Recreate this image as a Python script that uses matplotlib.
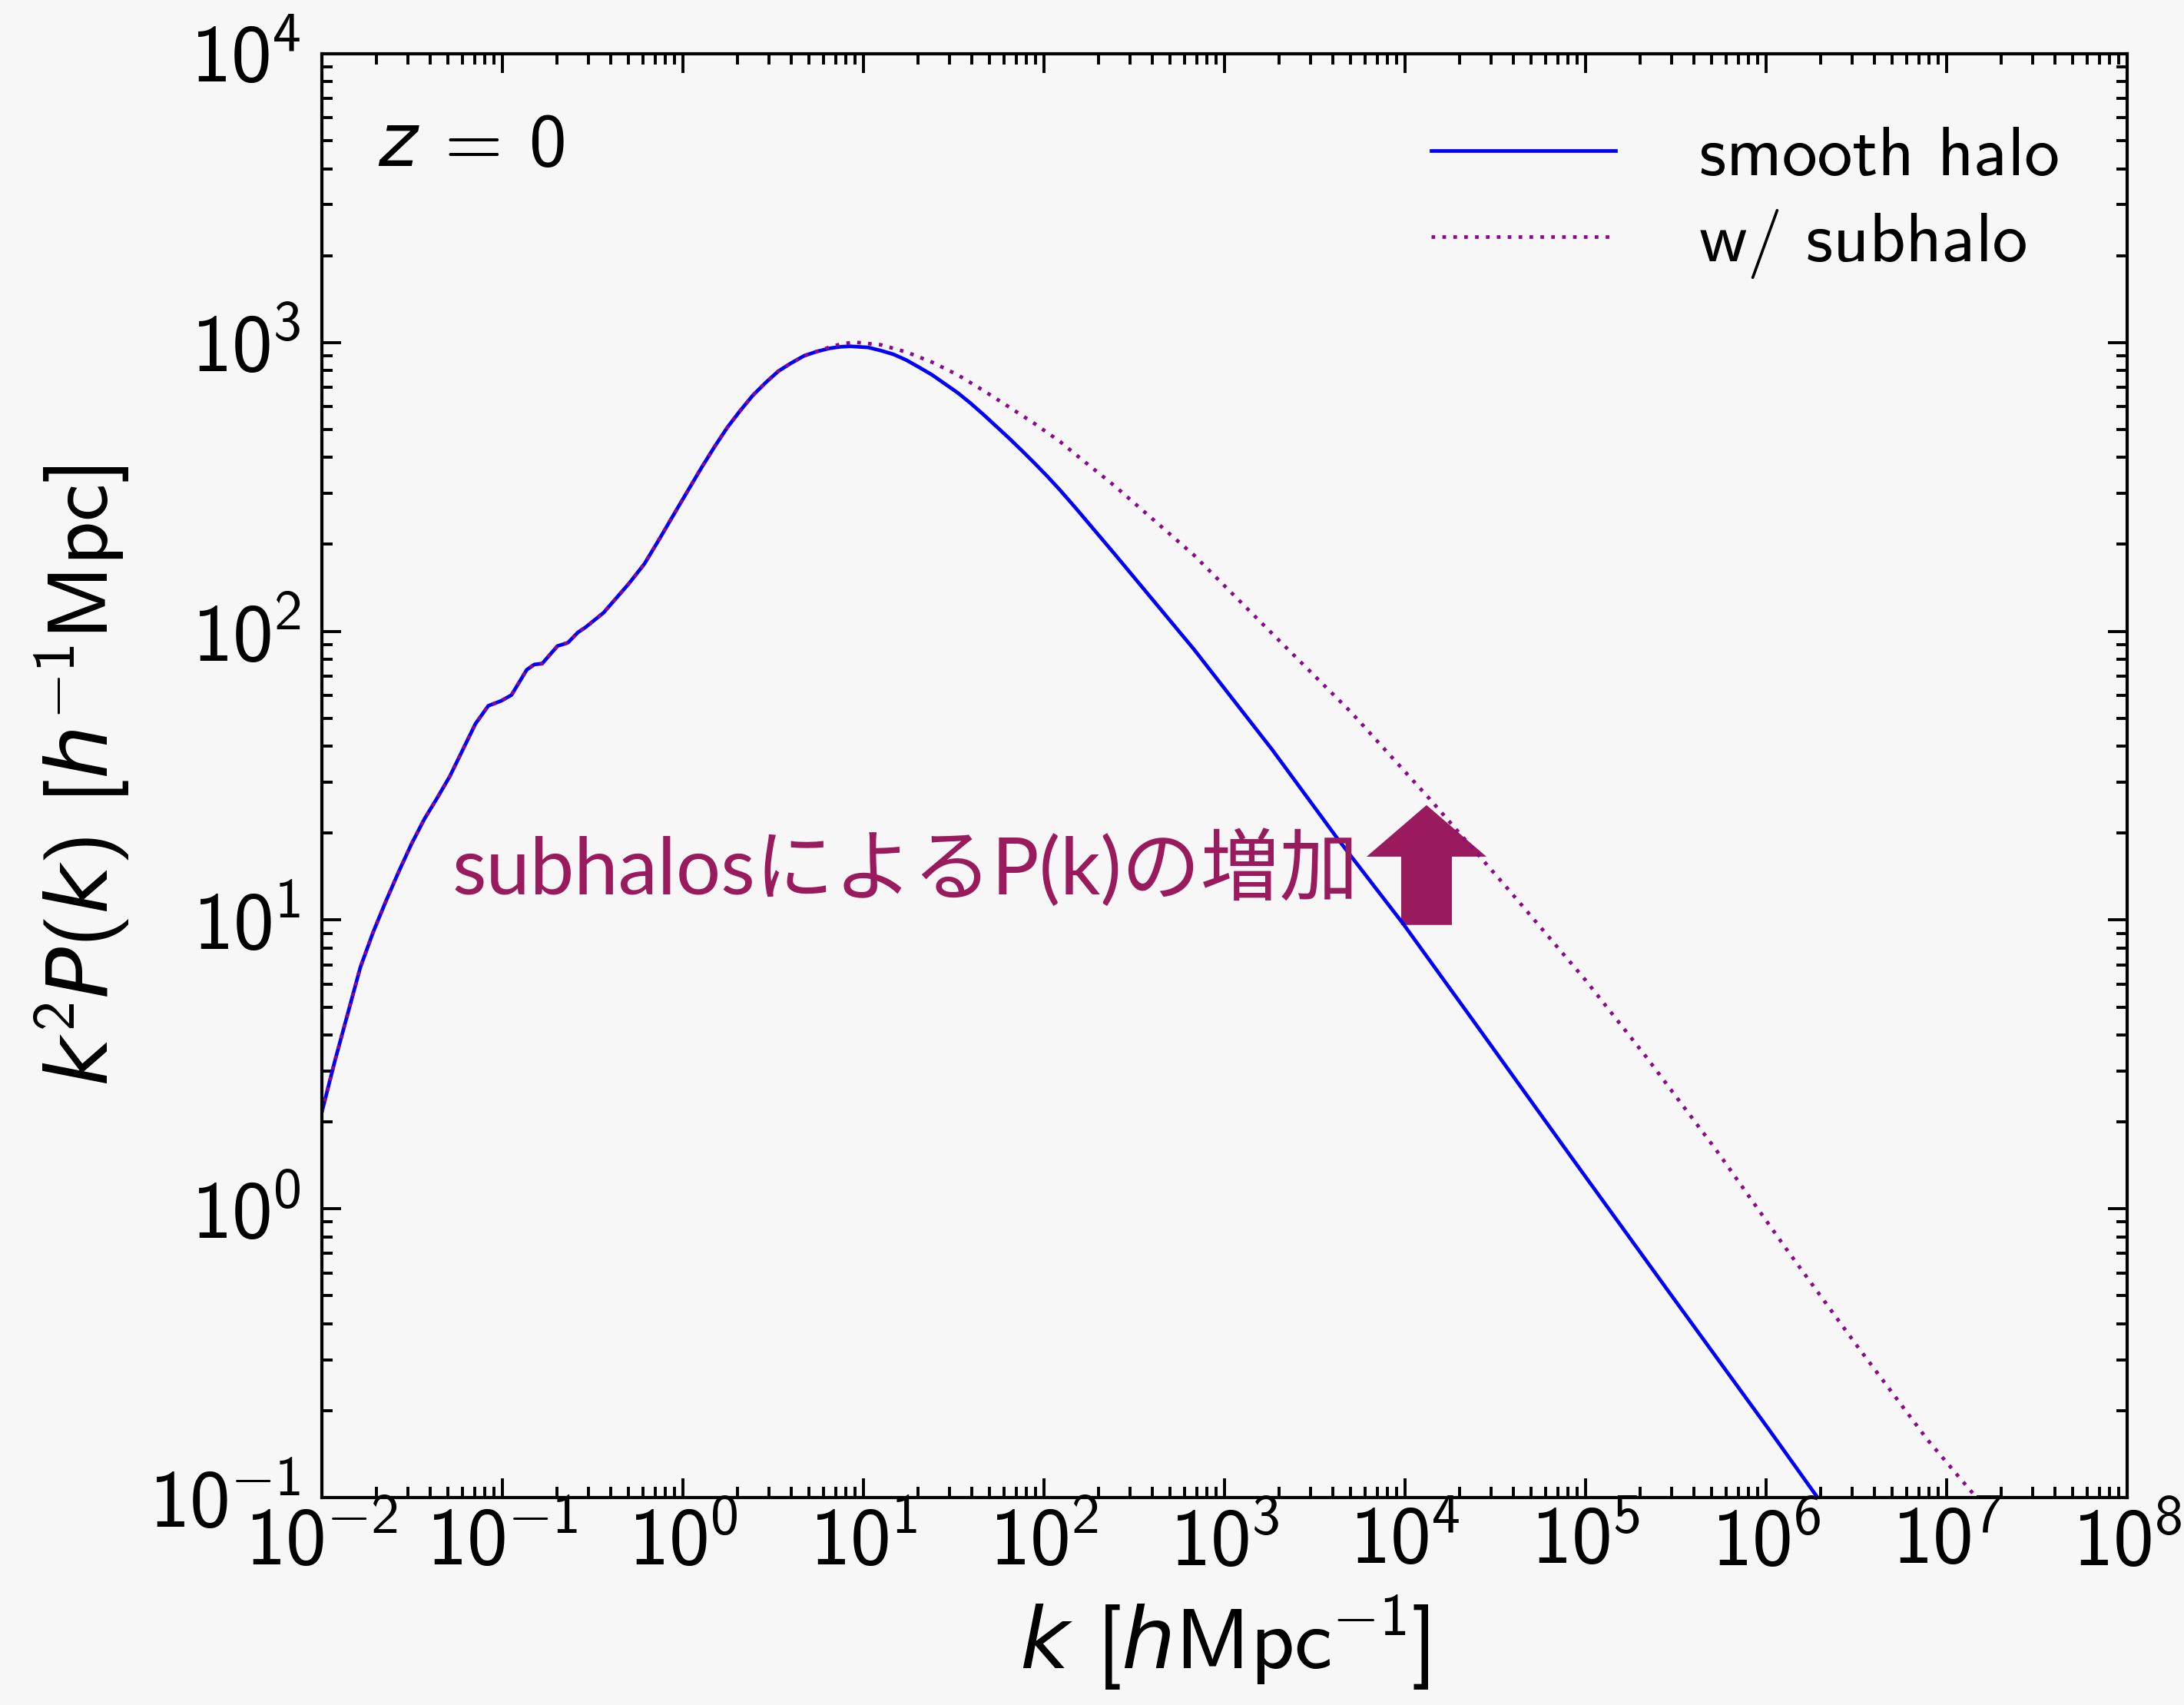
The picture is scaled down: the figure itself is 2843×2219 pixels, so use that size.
import numpy as np
import matplotlib
matplotlib.use("Agg")
import matplotlib.pyplot as plt
from matplotlib.ticker import LogLocator, FuncFormatter, NullFormatter
from matplotlib.patches import FancyArrow

# ---------------- data ----------------
k_smooth = [0.01000, 0.01178, 0.01387, 0.01633, 0.01923, 0.02265, 0.02667, 0.03133,
            0.03690, 0.04345, 0.05117, 0.06026, 0.07096, 0.08356, 0.09840, 0.1122,
            0.1365, 0.1503, 0.1660, 0.2018, 0.2301, 0.2618, 0.2891, 0.3631, 0.5035,
            0.6124, 0.7447, 0.9162, 1.079, 1.271, 1.496, 1.762, 2.070, 2.438, 2.871,
            3.381, 3.981, 4.688, 5.521, 6.501, 7.396, 8.433, 10.62, 12.50, 14.69,
            17.30, 20.37, 23.99, 28.25, 33.27, 39.17, 46.13, 54.33, 63.97, 75.34,
            88.72, 104.2, 122.7, 149.3, 248.9, 676.1, 1837.0, 4227.0, 9817.0,
            24270.0, 84720.0, 295800.0, 1.033e6, 1.928e6]
p_smooth = [2.163, 3.236, 4.710, 6.855, 9.078, 11.64, 14.72, 18.32,
            22.34, 26.42, 31.48, 38.82, 47.86, 55.21, 57.41, 60.12,
            73.62, 76.74, 77.27, 88.92, 91.20, 99.08, 103.3, 115.9, 146.6,
            171.4, 209.9, 261.8, 311.2, 369.8, 435.5, 508.2, 579.4, 656.1, 726.1,
            796.2, 849.2, 899.5, 931.1, 955.0, 966.1, 970.5, 961.6, 937.6, 909.9,
            869.0, 820.4, 772.7, 719.5, 669.9, 616.6, 563.6, 512.9, 466.7, 422.7,
            381.9, 344.4, 308.3, 267.9, 183.7, 86.70, 38.90, 19.14, 9.661,
            4.416, 1.489, 0.5058, 0.1726, 0.1000]

k_sub = [0.01000, 0.01178, 0.01387, 0.01633, 0.01923, 0.02265, 0.02667, 0.03133,
         0.03690, 0.04345, 0.05117, 0.06026, 0.07096, 0.08356, 0.09840, 0.1122,
         0.1365, 0.1503, 0.1660, 0.2018, 0.2301, 0.2618, 0.2891, 0.3631, 0.5035,
         0.6124, 0.7447, 0.9162, 1.079, 1.271, 1.496, 1.762, 2.070, 2.438, 2.871,
         3.381, 3.981, 4.688, 5.521, 6.501, 7.656, 9.016, 12.50, 17.30, 23.99,
         33.27, 46.13, 63.97, 88.72, 122.7, 149.3, 248.9, 676.1, 1837.0, 5000.0,
         13580.0, 36900.0, 100200.0, 214300.0, 527200.0, 1.297e6, 3.192e6,
         7.834e6, 1.462e7]
p_sub = [2.163, 3.236, 4.710, 6.855, 9.078, 11.64, 14.72, 18.32,
         22.34, 26.42, 31.48, 38.82, 47.86, 55.21, 57.41, 60.12,
         73.62, 76.74, 77.27, 88.92, 91.20, 99.08, 103.3, 115.9, 146.6,
         171.4, 209.9, 261.8, 311.2, 369.8, 435.5, 508.2, 579.4, 656.1, 726.1,
         796.2, 849.2, 899.5, 931.1, 963.9, 990.8, 1002.0, 981.7, 926.8, 855.1,
         772.7, 682.3, 598.4, 523.6, 453.9, 410.2, 316.9, 183.7, 98.17, 52.60,
         26.42, 12.88, 6.180, 3.388, 1.603, 0.7244, 0.3350, 0.1585, 0.1000]

labels = ["smooth halo", "w/ subhalo"]
annotation = "subhalosによるP(k)の増加"
redshift_text = r"$z\,=\,0$"
xlabel = r"$k\ [h\mathrm{Mpc}^{-1}]$"
ylabel = r"$k^2P(k)\ [h^{-1}\mathrm{Mpc}]$"
x_range = (1e-2, 1e8)
y_range = (1e-1, 1e4)

# ---------------- style ----------------
BG = "#f7f7f7"
ACCENT = "#9a1a5e"
plt.rcParams["font.family"] = ["cmss10", "DejaVu Sans"]
plt.rcParams["mathtext.fontset"] = "custom"
plt.rcParams["mathtext.rm"] = "cmss10"
plt.rcParams["mathtext.it"] = "DejaVu Sans:italic"
plt.rcParams["mathtext.bf"] = "cmss10"
plt.rcParams["mathtext.fallback"] = "cm"

fig = plt.figure(figsize=(14.215, 11.095), dpi=200, facecolor=BG)
ax = fig.add_axes([0.14738, 0.12168, 0.82659, 0.84678], facecolor=BG)

ax.plot(k_smooth, p_smooth, color="#0000ff", lw=1.7, label=labels[0])
ax.plot(k_sub, p_sub, color="#8b0a8b", lw=1.7, linestyle=(0, (1, 2.0)), label=labels[1])

ax.set_xscale("log")
ax.set_yscale("log")
ax.set_xlim(*x_range)
ax.set_ylim(*y_range)


def pow10(v, pos):
    e = int(round(np.log10(v)))
    return r"$10^{%d}$" % e


ax.xaxis.set_major_locator(LogLocator(base=10, numticks=30))
ax.yaxis.set_major_locator(LogLocator(base=10, numticks=30))
ax.xaxis.set_minor_locator(LogLocator(base=10, subs=np.arange(2, 10), numticks=300))
ax.yaxis.set_minor_locator(LogLocator(base=10, subs=np.arange(2, 10), numticks=300))
ax.xaxis.set_major_formatter(FuncFormatter(pow10))
ax.yaxis.set_major_formatter(FuncFormatter(pow10))
ax.xaxis.set_minor_formatter(NullFormatter())
ax.yaxis.set_minor_formatter(NullFormatter())

ax.tick_params(which="both", direction="in", top=True, right=True, width=1.4, color="black")
ax.tick_params(which="major", length=9, labelsize=38)
ax.tick_params(which="minor", length=5)
ax.tick_params(axis="x", which="major", pad=4)
ax.tick_params(axis="y", which="major", pad=10)
for s in ax.spines.values():
    s.set_linewidth(1.5)

ax.set_xlabel(xlabel, fontsize=40, labelpad=6)
ax.set_ylabel(ylabel, fontsize=40, labelpad=8)

ax.text(0.031, 0.9225, redshift_text, transform=ax.transAxes, fontsize=35,
        ha="left", va="baseline")

leg = ax.legend(loc="upper left", bbox_to_anchor=(0.6145, 0.950), frameon=False,
                fontsize=33, handlelength=2.62, handletextpad=1.19, labelspacing=0.28,
                borderpad=0, borderaxespad=0)

ax.text(0.0723, 0.4179, annotation, transform=ax.transAxes, fontsize=37,
        color=ACCENT, family=["Lato", "Noto Sans CJK JP", "DejaVu Sans"],
        ha="left", va="baseline")

arrow = FancyArrow(0.6119, 0.3966, 0.0, 0.083, width=0.0281, head_width=0.0664,
                   head_length=0.0357, length_includes_head=True,
                   transform=ax.transAxes, color=ACCENT, lw=0)
ax.add_patch(arrow)

fig.savefig("out.png", dpi=200, facecolor=BG)
